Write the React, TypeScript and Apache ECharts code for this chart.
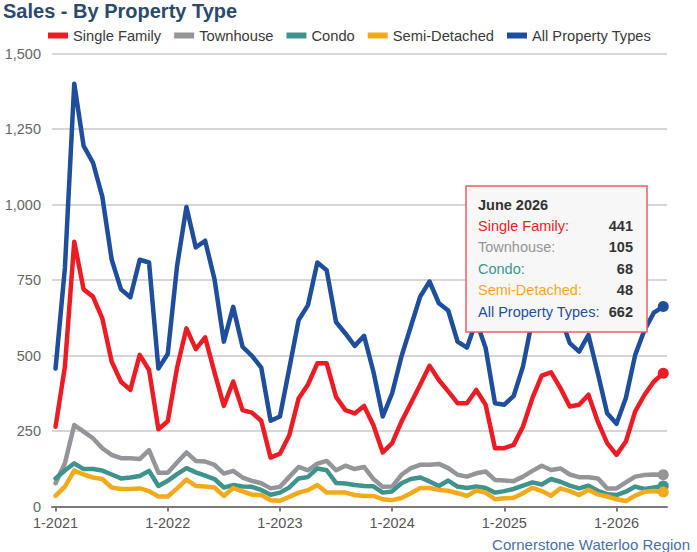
import React, { useEffect, useRef } from 'react';
import * as echarts from 'echarts';

const seriesNames = ['Single Family', 'Townhouse', 'Condo', 'Semi-Detached', 'All Property Types'];
const seriesColors = ['#ed1c24', '#939598', '#3e948c', '#f2aa1b', '#1f4e9d'];

const singleFamily = [
  264, 463, 877, 719, 695, 623, 480, 413, 386, 502, 452, 256,
  282, 460, 590, 521, 560, 444, 333, 414, 319, 311, 284, 162,
  175, 236, 358, 404, 474, 474, 363, 319, 308, 333, 269, 179,
  210, 281, 342, 403, 466, 419, 381, 342, 342, 386, 337, 193,
  193, 204, 265, 359, 433, 444, 392, 331, 337, 370, 281, 210,
  171, 215, 315, 370, 414, 441,
];
const townhouse = [
  77, 143, 270, 248, 226, 193, 171, 160, 160, 157, 187, 112,
  112, 146, 179, 151, 149, 138, 109, 118, 96, 85, 77, 60,
  65, 98, 131, 120, 142, 151, 120, 135, 124, 131, 91, 65,
  66, 105, 127, 138, 138, 141, 127, 105, 99, 110, 116, 88,
  86, 84, 99, 118, 135, 121, 126, 106, 97, 97, 93, 60,
  60, 80, 99, 104, 106, 105,
];
const condo = [
  93, 119, 143, 124, 124, 119, 106, 93, 96, 101, 118, 68,
  85, 107, 127, 113, 102, 91, 63, 71, 66, 65, 55, 39,
  46, 63, 93, 98, 126, 120, 78, 76, 71, 68, 67, 46,
  50, 77, 91, 96, 83, 68, 86, 66, 61, 66, 61, 46,
  51, 58, 69, 80, 73, 91, 82, 69, 60, 69, 52, 41,
  38, 49, 66, 58, 63, 68,
];
const semiDetached = [
  35, 66, 119, 106, 96, 91, 63, 58, 58, 60, 51, 33,
  33, 60, 89, 68, 66, 63, 35, 61, 50, 39, 38, 21,
  19, 32, 46, 54, 71, 46, 46, 46, 38, 35, 35, 24,
  21, 28, 44, 61, 61, 55, 52, 44, 35, 53, 46, 24,
  27, 29, 44, 62, 51, 36, 60, 51, 38, 55, 40, 33,
  24, 18, 36, 49, 51, 48,
];
const allTypes = [
  457, 790, 1400, 1194, 1139, 1026, 818, 719, 693, 817, 808, 457,
  505, 797, 992, 858, 880, 753, 546, 661, 529, 499, 460, 284,
  298, 457, 617, 667, 808, 782, 611, 573, 532, 565, 446, 298,
  375, 497, 596, 695, 745, 673, 649, 546, 526, 615, 525, 342,
  337, 366, 464, 620, 690, 700, 630, 541, 513, 568, 441, 309,
  274, 359, 502, 585, 642, 662,
];

const xTickIndex = [0, 12, 24, 36, 48, 60];
const xTickLabels = ['1-2021', '1-2022', '1-2023', '1-2024', '1-2025', '1-2026'];
const monthNames = ['January', 'February', 'March', 'April', 'May', 'June', 'July', 'August', 'September', 'October', 'November', 'December'];
const startYear = 2021;

const FONT = '"Liberation Sans", Arial, Helvetica, sans-serif';

export default function App() {
  const ref = useRef<HTMLDivElement>(null);

  useEffect(() => {
    if (!ref.current) return;
    const chart = echarts.init(ref.current, undefined, { renderer: 'svg' });
    const all = [singleFamily, townhouse, condo, semiDetached, allTypes];
    const lastIdx = allTypes.length - 1;
    const tipTitle = monthNames[lastIdx % 12] + ' ' + (startYear + Math.floor(lastIdx / 12));

    const tipX = 466, tipY = 186, tipW = 181, tipH = 146;
    const rowY0 = 40, rowStep = 21.4;
    const tipChildren: any[] = [
      {
        type: 'rect', z: 100,
        shape: { x: 0, y: 0, width: tipW, height: tipH },
        style: { fill: '#f7f7f7', stroke: '#ee5c66', lineWidth: 1.5 },
      },
      {
        type: 'text', z: 101, x: 12, y: 19,
        style: { text: tipTitle, fontSize: 14.5, fontWeight: 'bold', fontFamily: FONT, fill: '#333', align: 'left', verticalAlign: 'middle' },
      },
    ];
    all.forEach((arr, k) => {
      tipChildren.push({
        type: 'text', z: 101, x: 12, y: rowY0 + rowStep * k,
        style: { text: seriesNames[k] + ':', fontSize: 14.5, fontFamily: FONT, fill: seriesColors[k], align: 'left', verticalAlign: 'middle' },
      });
      tipChildren.push({
        type: 'text', z: 101, x: 167, y: rowY0 + rowStep * k,
        style: { text: arr[lastIdx].toLocaleString('en-US'), fontSize: 14.5, fontWeight: 'bold', fontFamily: FONT, fill: '#333', align: 'right', verticalAlign: 'middle' },
      });
    });

    const option: any = {
      animation: false,
      textStyle: { fontFamily: FONT },
      title: {
        text: 'Sales - By Property Type',
        left: 3, top: 1, padding: 0,
        textStyle: { fontSize: 20, fontWeight: 'bold', color: '#2c4a6b', fontFamily: FONT },
      },
      legend: {
        left: 48, top: 28, padding: 0,
        itemWidth: 20, itemHeight: 6, itemGap: 13,
        icon: 'rect', selectedMode: false,
        textStyle: { fontSize: 14.7, color: '#3a3a3a', fontFamily: FONT },
        data: seriesNames,
      },
      grid: { left: 52, right: 30, top: 53.5, bottom: 45.5, containLabel: false },
      xAxis: {
        type: 'value', min: -0.38, max: 65.4,
        splitLine: { show: false },
        axisLine: { show: true, onZero: false, lineStyle: { color: '#7a7a7a', width: 2 } },
        axisTick: { show: true, customValues: xTickIndex, length: 5, lineStyle: { color: '#7a7a7a', width: 2 } },
        axisLabel: {
          customValues: xTickIndex,
          formatter: (v: number) => xTickLabels[xTickIndex.indexOf(Math.round(v))] ?? '',
          fontSize: 14.5, color: '#555', margin: 9, fontFamily: FONT,
        },
      },
      yAxis: {
        type: 'value', min: 0, max: 1500, interval: 250,
        axisLine: { show: false }, axisTick: { show: false },
        splitLine: { lineStyle: { color: '#c8c8c8', width: 1.5 } },
        axisLabel: {
          formatter: (v: number) => v.toLocaleString('en-US'),
          fontSize: 14.5, color: '#666', margin: 11, fontFamily: FONT,
        },
      },
      series: all.map((arr, k) => ({
        name: seriesNames[k],
        type: 'line',
        data: arr.map((v, i) => (i === lastIdx ? { value: [i, v], symbol: 'circle', symbolSize: 11 } : [i, v])),
        symbol: 'none',
        showSymbol: true,
        clip: false,
        silent: true,
        z: 2 + k,
        lineStyle: { width: 4.5, color: seriesColors[k], join: 'round', cap: 'round' },
        itemStyle: { color: seriesColors[k] },
        emphasis: { disabled: true },
      })),
      graphic: [
        { type: 'group', x: tipX, y: tipY, z: 100, children: tipChildren },
        {
          type: 'text', z: 100, x: 690, y: 544,
          style: { text: 'Cornerstone Waterloo Region', fontSize: 15, fontFamily: FONT, fill: '#4a70a8', align: 'right', verticalAlign: 'middle' },
        },
      ],
    };
    chart.setOption(option);
    return () => chart.dispose();
  }, []);

  return <div ref={ref} style={{ position: 'fixed', left: 0, top: 0, width: 697, height: 552, background: '#fff' }} />;
}
